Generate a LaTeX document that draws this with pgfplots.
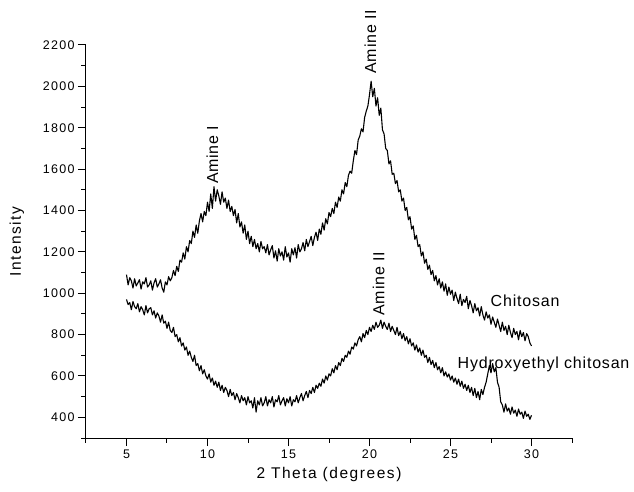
\documentclass[border=0pt]{standalone}
\usepackage{fontspec}
\setmainfont{Liberation Sans}
\usepackage{pgfplots}
\usepackage{pgfplotstable}
\pgfplotsset{compat=1.18}

\pgfplotstableread{
x y
5.0 1090
5.1 1040
5.2 1075
5.3 1060
5.4 1025
5.5 1070
5.6 1035
5.7 1050
5.8 1065
5.9 1020
6.0 1055
6.1 1045
6.2 1075
6.3 1030
6.4 1040
6.5 1060
6.6 1015
6.7 1050
6.8 1070
6.9 1030
7.0 1045
7.1 1065
7.2 1025
7.3 1005
7.4 1055
7.5 1040
7.6 1080
7.7 1060
7.8 1075
7.9 1110
8.0 1085
8.1 1130
8.2 1105
8.3 1160
8.4 1150
8.5 1195
8.6 1165
8.7 1225
8.8 1200
8.9 1255
9.0 1240
9.1 1300
9.2 1270
9.3 1330
9.4 1290
9.5 1350
9.6 1385
9.7 1345
9.8 1395
9.9 1375
10.0 1440
10.1 1395
10.2 1480
10.3 1410
10.4 1515
10.5 1445
10.6 1500
10.7 1470
10.8 1430
10.9 1490
11.0 1440
11.1 1460
11.2 1410
11.3 1450
11.4 1395
11.5 1420
11.6 1375
11.7 1405
11.8 1340
11.9 1385
12.0 1320
12.1 1345
12.2 1290
12.3 1330
12.4 1260
12.5 1300
12.6 1240
12.7 1275
12.8 1225
12.9 1260
13.0 1215
13.1 1240
13.2 1200
13.3 1250
13.4 1215
13.5 1225
13.6 1195
13.7 1235
13.8 1185
13.9 1210
14.0 1230
14.1 1170
14.2 1205
14.3 1155
14.4 1215
14.5 1180
14.6 1200
14.7 1160
14.8 1225
14.9 1175
15.0 1195
15.1 1150
15.2 1215
15.3 1185
15.4 1220
15.5 1170
15.6 1235
15.7 1200
15.8 1215
15.9 1245
16.0 1205
16.1 1260
16.2 1225
16.3 1250
16.4 1275
16.5 1230
16.6 1270
16.7 1295
16.8 1255
16.9 1310
17.0 1285
17.1 1340
17.2 1305
17.3 1360
17.4 1335
17.5 1390
17.6 1370
17.7 1410
17.8 1385
17.9 1440
18.0 1415
18.1 1465
18.2 1445
18.3 1500
18.4 1480
18.5 1535
18.6 1515
18.7 1570
18.8 1590
18.9 1580
19.0 1640
19.1 1690
19.2 1670
19.3 1740
19.4 1760
19.5 1795
19.6 1780
19.7 1850
19.8 1880
19.9 1905
20.0 1960
20.1 2025
20.2 1950
20.3 1990
20.4 1905
20.5 1945
20.6 1860
20.7 1895
20.8 1790
20.9 1770
21.0 1700
21.1 1690
21.2 1625
21.3 1640
21.4 1575
21.5 1580
21.6 1530
21.7 1545
21.8 1490
21.9 1500
22.0 1445
22.1 1460
22.2 1400
22.3 1415
22.4 1355
22.5 1370
22.6 1310
22.7 1325
22.8 1260
22.9 1280
23.0 1225
23.1 1235
23.2 1180
23.3 1200
23.4 1145
23.5 1165
23.6 1115
23.7 1135
23.8 1090
23.9 1110
24.0 1060
24.1 1085
24.2 1040
24.3 1070
24.4 1025
24.5 1055
24.6 1010
24.7 1045
24.8 990
24.9 1030
25.0 995
25.1 1015
25.2 965
25.3 1005
25.4 975
25.5 950
25.6 995
25.7 940
25.8 970
25.9 955
26.0 985
26.1 925
26.2 965
26.3 940
26.4 905
26.5 950
26.6 915
26.7 930
26.8 890
26.9 935
27.0 895
27.1 870
27.2 910
27.3 880
27.4 895
27.5 850
27.6 885
27.7 860
27.8 835
27.9 875
28.0 845
28.1 815
28.2 860
28.3 820
28.4 840
28.5 800
28.6 845
28.7 810
28.8 785
28.9 830
29.0 800
29.1 815
29.2 775
29.3 820
29.4 790
29.5 810
29.6 770
29.7 805
29.8 790
29.9 760
30.0 745
}\chitosan

\pgfplotstableread{
x y
5.0 970
5.1 945
5.2 955
5.3 920
5.4 960
5.5 935
5.6 925
5.7 950
5.8 910
5.9 935
6.0 920
6.1 895
6.2 940
6.3 905
6.4 925
6.5 930
6.6 895
6.7 915
6.8 880
6.9 905
7.0 890
7.1 860
7.2 895
7.3 855
7.4 865
7.5 830
7.6 860
7.7 820
7.8 810
7.9 835
8.0 790
8.1 800
8.2 765
8.3 785
8.4 745
8.5 760
8.6 725
8.7 740
8.8 700
8.9 720
9.0 690
9.1 670
9.2 700
9.3 650
9.4 660
9.5 625
9.6 650
9.7 610
9.8 630
9.9 600
10.0 585
10.1 610
10.2 570
10.3 590
10.4 555
10.5 575
10.6 545
10.7 570
10.8 530
10.9 555
11.0 520
11.1 545
11.2 530
11.3 500
11.4 535
11.5 505
11.6 520
11.7 485
11.8 515
11.9 495
12.0 470
12.1 505
12.2 480
12.3 495
12.4 460
12.5 500
12.6 470
12.7 480
12.8 445
12.9 495
13.0 425
13.1 480
13.2 460
13.3 495
13.4 455
13.5 470
13.6 500
13.7 455
13.8 485
13.9 470
14.0 500
14.1 450
14.2 485
14.3 475
14.4 505
14.5 460
14.6 480
14.7 495
14.8 455
14.9 490
15.0 470
15.1 500
15.2 455
15.3 485
15.4 475
15.5 505
15.6 470
15.7 495
15.8 515
15.9 480
16.0 505
16.1 525
16.2 495
16.3 530
16.4 515
16.5 545
16.6 520
16.7 555
16.8 540
16.9 565
17.0 550
17.1 585
17.2 565
17.3 600
17.4 580
17.5 610
17.6 600
17.7 635
17.8 615
17.9 650
18.0 630
18.1 665
18.2 650
18.3 685
18.4 670
18.5 700
18.6 690
18.7 720
18.8 705
18.9 740
19.0 730
19.1 760
19.2 745
19.3 775
19.4 790
19.5 765
19.6 805
19.7 785
19.8 820
19.9 800
20.0 835
20.1 815
20.2 845
20.3 825
20.4 860
20.5 835
20.6 845
20.7 870
20.8 830
20.9 860
21.0 840
21.1 825
21.2 855
21.3 815
21.4 840
21.5 820
21.6 800
21.7 835
21.8 795
21.9 815
22.0 780
22.1 805
22.2 770
22.3 790
22.4 755
22.5 780
22.6 745
22.7 760
22.8 725
22.9 750
23.0 715
23.1 735
23.2 700
23.3 725
23.4 690
23.5 700
23.6 665
23.7 690
23.8 655
23.9 675
24.0 640
24.1 665
24.2 630
24.3 645
24.4 615
24.5 640
24.6 600
24.7 620
24.8 595
24.9 610
25.0 580
25.1 600
25.2 570
25.3 590
25.4 560
25.5 585
25.6 550
25.7 575
25.8 540
25.9 560
26.0 530
26.1 555
26.2 520
26.3 545
26.4 505
26.5 540
26.6 495
26.7 525
26.8 485
26.9 535
27.0 510
27.1 545
27.2 570
27.3 610
27.4 650
27.5 615
27.6 660
27.7 620
27.8 640
27.9 570
28.0 545
28.1 475
28.2 460
28.3 425
28.4 465
28.5 430
28.6 445
28.7 415
28.8 450
28.9 420
29.0 435
29.1 405
29.2 440
29.3 415
29.4 425
29.5 395
29.6 430
29.7 405
29.8 415
29.9 390
30.0 410
}\hec

\newcommand{\tickfont}{\fontsize{12.5}{14}\selectfont\addfontfeatures{LetterSpace=10}}
\newcommand{\labfont}{\fontsize{15.5}{18}\selectfont\addfontfeatures{LetterSpace=10}}
\newcommand{\annfont}{\fontsize{16}{18}\selectfont\addfontfeatures{LetterSpace=5}}

\begin{document}
\begin{tikzpicture}
\path (-86pt,-53pt) rectangle (548pt,438pt);
\begin{axis}[
  at={(0,0)}, anchor=south west,
  width=486pt, height=393pt, scale only axis,
  xmin=2.5, xmax=32.5, ymin=300, ymax=2200,
  axis x line*=bottom, axis y line*=left,
  axis line style={-, line width=1pt},
  xtick={5,10,...,30}, minor xtick={2.5,7.5,...,32.5},
  ytick={400,600,...,2200}, minor ytick={300,500,...,2100},
  tick align=outside,
  major tick length=8pt, minor tick length=4.5pt,
  every tick/.style={line width=1pt, black},
  /pgf/number format/assume math mode=true,
  /pgf/number format/1000 sep={},
  tick label style={font=\tickfont},
  xlabel={2 Theta (degrees)}, ylabel={Intensity},
  label style={font=\labfont},
  xlabel style={at={(axis description cs:0.5,-0.094)}, anchor=center},
  ylabel style={at={(axis description cs:-0.142,0.5)}, anchor=center},
  clip=false,
]
\addplot[black, line width=1.1pt, line join=round] table[x=x, y=y] {\chitosan};
\addplot[black, line width=1.1pt, line join=round] table[x=x, y=y] {\hec};
\node[font=\annfont, rotate=90, anchor=west] at (axis cs:10.31,1511) {Amine I};
\node[font=\annfont, rotate=90, anchor=west] at (axis cs:20.06,2045) {Amine II};
\node[font=\annfont, rotate=90, anchor=west] at (axis cs:20.56,875) {Amine II};
\node[font=\annfont, anchor=west, inner sep=0pt] at (axis cs:27.47,963) {Chitosan};
\node[font=\annfont, anchor=west, inner sep=0pt] at (axis cs:25.43,657) {Hydroxyethyl chitosan};
\end{axis}
\end{tikzpicture}
\end{document}
